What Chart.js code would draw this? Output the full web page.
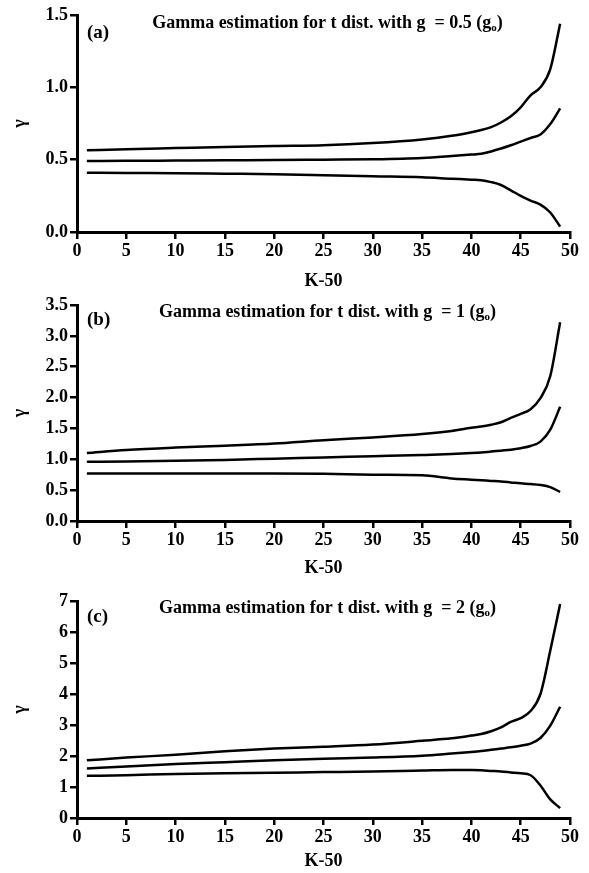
<!DOCTYPE html>
<html lang="en">
<head>
    <meta charset="UTF-8">
    <title>Gamma estimation for t dist.</title>
    <script src="https://cdn.jsdelivr.net/npm/chart.js"></script>
    <style>
        body { margin: 0; background: #fff; }
        .panel { position: absolute; left: 0; width: 589px; height: 291px; }
    </style>
</head>
<body>
    <div class="panel" style="top:0px"><canvas id="chartA" width="589" height="291"></canvas></div>
    <div class="panel" style="top:291px"><canvas id="chartB" width="589" height="291"></canvas></div>
    <div class="panel" style="top:582px"><canvas id="chartC" width="589" height="291"></canvas></div>

    <script>
        // K-50 positions where the curves were read
        const kValues = [1, 5, 10, 15, 20, 25, 30, 35, 38, 40, 41, 42, 43, 44, 45, 46, 47, 48, 49];

        // (a) g = 0.5
        const upperA  = [0.565, 0.572, 0.58, 0.588, 0.595, 0.60, 0.615, 0.64, 0.665, 0.69, 0.705, 0.725, 0.757, 0.80, 0.862, 0.945, 1.0, 1.126, 1.44];
        const centerA = [0.49, 0.492, 0.494, 0.496, 0.497, 0.50, 0.503, 0.512, 0.525, 0.535, 0.541, 0.557, 0.577, 0.60, 0.625, 0.65, 0.674, 0.746, 0.855];
        const lowerA  = [0.41, 0.408, 0.406, 0.403, 0.40, 0.393, 0.385, 0.378, 0.368, 0.362, 0.358, 0.345, 0.325, 0.288, 0.25, 0.217, 0.189, 0.135, 0.037];

        // (b) g = 1
        const upperB  = [1.10, 1.15, 1.19, 1.22, 1.255, 1.31, 1.355, 1.41, 1.46, 1.51, 1.53, 1.56, 1.60, 1.67, 1.735, 1.81, 1.99, 2.35, 3.22];
        const centerB = [0.96, 0.965, 0.975, 0.99, 1.01, 1.03, 1.05, 1.07, 1.085, 1.10, 1.11, 1.125, 1.14, 1.155, 1.18, 1.215, 1.286, 1.48, 1.85];
        const lowerB  = [0.77, 0.77, 0.77, 0.77, 0.77, 0.765, 0.75, 0.74, 0.69, 0.67, 0.66, 0.65, 0.64, 0.625, 0.61, 0.60, 0.585, 0.55, 0.47];

        // (c) g = 2
        const upperC  = [1.86, 1.95, 2.04, 2.15, 2.24, 2.30, 2.37, 2.49, 2.57, 2.66, 2.71, 2.80, 2.92, 3.10, 3.22, 3.45, 4.0, 5.4, 6.9];
        const centerC = [1.60, 1.66, 1.74, 1.80, 1.86, 1.91, 1.95, 2.01, 2.08, 2.13, 2.16, 2.20, 2.24, 2.28, 2.33, 2.40, 2.58, 2.98, 3.59];
        const lowerC  = [1.36, 1.38, 1.42, 1.44, 1.46, 1.48, 1.50, 1.53, 1.55, 1.55, 1.54, 1.52, 1.50, 1.47, 1.44, 1.38, 1.05, 0.60, 0.32];

        const xTicks = [0, 5, 10, 15, 20, 25, 30, 35, 40, 45, 50];
        const yTicksA = [0, 0.5, 1.0, 1.5];
        const yTicksB = [0, 0.5, 1.0, 1.5, 2.0, 2.5, 3.0, 3.5];
        const yTicksC = [0, 1, 2, 3, 4, 5, 6, 7];

        const serif = '"Liberation Serif", "Times New Roman", serif';

        // draws the panel tag and the in-plot heading with its subscript
        const panelText = {
            id: 'panelText',
            afterDraw(chart, args, opts) {
                const { ctx, chartArea } = chart;
                ctx.save();
                ctx.fillStyle = '#000';
                ctx.textBaseline = 'middle';

                ctx.font = 'bold 19px ' + serif;
                ctx.textAlign = 'left';
                ctx.fillText(opts.tag, chartArea.left + 10, chartArea.top + opts.tagDy);

                ctx.font = 'bold 18px ' + serif;
                const mainW = ctx.measureText(opts.title).width;
                ctx.font = 'bold 11px ' + serif;
                const subW = ctx.measureText('o').width;
                ctx.font = 'bold 18px ' + serif;
                const closeW = ctx.measureText(')').width;
                const total = mainW + subW + closeW;
                let x = (chartArea.left + chartArea.right) / 2 + 4 - total / 2;
                const y = chartArea.top + opts.titleDy;
                ctx.fillText(opts.title, x, y);
                x += mainW;
                ctx.font = 'bold 11px ' + serif;
                ctx.fillText('o', x, y + 5);
                x += subW;
                ctx.font = 'bold 18px ' + serif;
                ctx.fillText(')', x, y);
                ctx.restore();
            }
        };

        function line(values) {
            return {
                data: kValues.map((k, i) => ({ x: k, y: values[i] })),
                borderColor: '#000',
                borderWidth: 2.5,
                pointRadius: 0,
                cubicInterpolationMode: 'monotone',
                fill: false
            };
        }

        function makeChart(id, series, yTicks, yMax, decimals, layout, text) {
            const ctx = document.getElementById(id).getContext('2d');
            return new Chart(ctx, {
                type: 'line',
                data: { datasets: series.map(line) },
                plugins: [panelText],
                options: {
                    responsive: false,
                    animation: false,
                    layout: { padding: { top: layout.top, right: 19, bottom: 0, left: 0 } },
                    plugins: {
                        legend: { display: false },
                        tooltip: { enabled: false },
                        panelText: text
                    },
                    scales: {
                        x: {
                            type: 'linear',
                            min: 0,
                            max: 50,
                            afterBuildTicks: s => { s.ticks = xTicks.map(v => ({ value: v })); },
                            ticks: {
                                color: '#000',
                                padding: 2,
                                maxRotation: 0,
                                font: { family: serif, size: 18, weight: 'bold' }
                            },
                            grid: { drawOnChartArea: false, drawTicks: true, tickLength: 7, color: '#000', lineWidth: 2.5 },
                            border: { display: true, color: '#000', width: 3 },
                            title: {
                                display: true,
                                text: 'K-50',
                                color: '#000',
                                padding: { top: 0, bottom: layout.titlePad },
                                font: { family: serif, size: 18, weight: 'bold', lineHeight: 1 }
                            },
                            afterFit: s => { s.height = layout.xHeight; }
                        },
                        y: {
                            min: 0,
                            max: yMax,
                            afterBuildTicks: s => { s.ticks = yTicks.map(v => ({ value: v })); },
                            ticks: {
                                color: '#000',
                                padding: 2,
                                font: { family: serif, size: 18, weight: 'bold' },
                                callback: v => v.toFixed(decimals)
                            },
                            grid: { drawOnChartArea: false, drawTicks: true, tickLength: 7, color: '#000', lineWidth: 2.5 },
                            border: { display: true, color: '#000', width: 3 },
                            title: {
                                display: true,
                                text: 'γ',
                                color: '#000',
                                padding: { top: 11, bottom: 0 },
                                font: { family: serif, size: 18, weight: 'bold', lineHeight: 1 }
                            },
                            afterFit: s => { s.width = 77; }
                        }
                    }
                }
            });
        }

        makeChart('chartA', [upperA, centerA, lowerA], yTicksA, 1.5, 1,
            { top: 15, xHeight: 59, titlePad: 1 },
            { tag: '(a)', tagDy: 18, title: 'Gamma estimation for t dist. with g  = 0.5 (g', titleDy: 8 });

        makeChart('chartB', [upperB, centerB, lowerB], yTicksB, 3.5, 1,
            { top: 14, xHeight: 61, titlePad: 5 },
            { tag: '(b)', tagDy: 15, title: 'Gamma estimation for t dist. with g  = 1 (g', titleDy: 7 });

        makeChart('chartC', [upperC, centerC, lowerC], yTicksC, 7, 0,
            { top: 19, xHeight: 55, titlePad: 3 },
            { tag: '(c)', tagDy: 16, title: 'Gamma estimation for t dist. with g  = 2 (g', titleDy: 7 });
    </script>
</body>
</html>
